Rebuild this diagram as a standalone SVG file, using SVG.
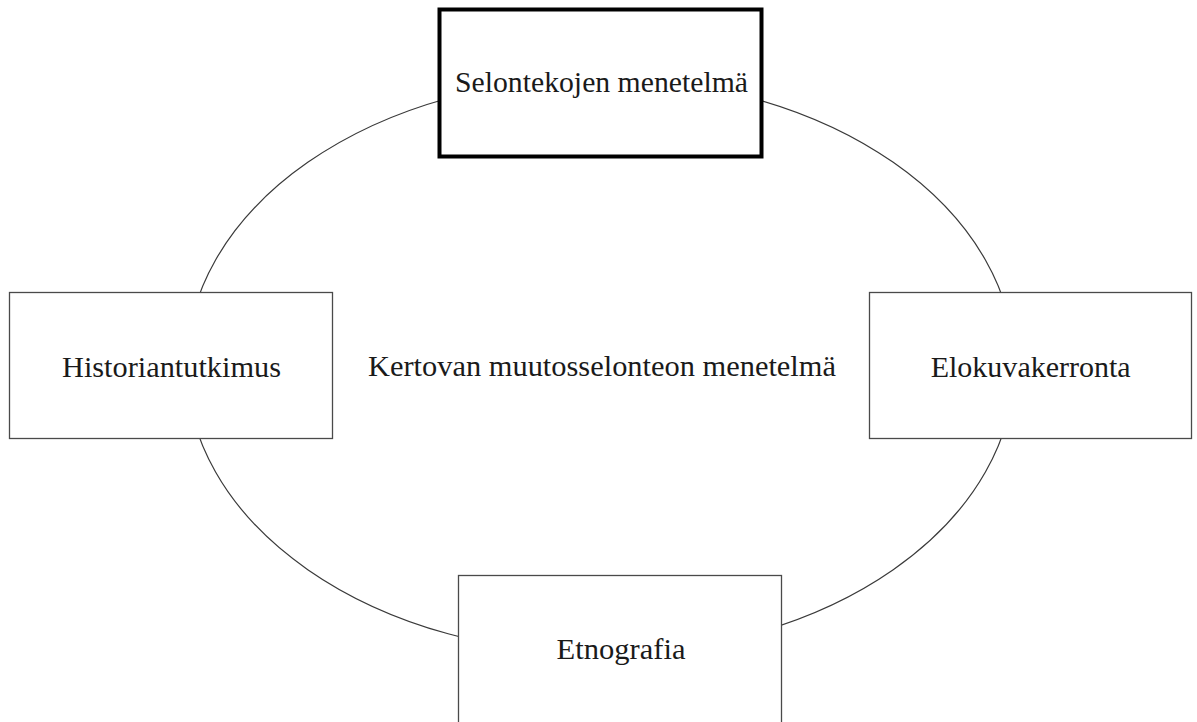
<svg xmlns="http://www.w3.org/2000/svg" width="1197" height="722" viewBox="0 0 1197 722">
  <style>
    .box { fill: #ffffff; stroke: #4a4a4a; stroke-width: 1.3; }
    .box-main { fill: #ffffff; stroke: #000000; stroke-width: 4; }
    .ring { fill: none; stroke: #3a3a3a; stroke-width: 1.2; }
    .label { font-family: "Liberation Serif", "Times New Roman", serif; font-size: 29px; fill: #1a1a1a; text-anchor: middle; }
  </style>
  <rect width="1197" height="722" fill="#ffffff"/>

  <!-- cycle ring joining the four methods -->
  <g id="connectors">
    <ellipse class="ring" cx="600.5" cy="366" rx="414" ry="288"/>
  </g>

  <g id="center-label">
    <text class="label" x="602" y="376" textLength="468" lengthAdjust="spacingAndGlyphs">Kertovan muutosselonteon menetelmä</text>
  </g>

  <g id="node-selontekojen">
    <rect class="box-main" x="439.5" y="9.5" width="322" height="147"/>
    <text class="label" x="601.5" y="92" textLength="293" lengthAdjust="spacingAndGlyphs">Selontekojen menetelmä</text>
  </g>

  <g id="node-historiantutkimus">
    <rect class="box" x="9.5" y="292.5" width="323" height="146"/>
    <text class="label" x="171.5" y="377" textLength="219" lengthAdjust="spacingAndGlyphs">Historiantutkimus</text>
  </g>

  <g id="node-elokuvakerronta">
    <rect class="box" x="869.5" y="292.5" width="322" height="146"/>
    <text class="label" x="1030.7" y="377" textLength="200" lengthAdjust="spacingAndGlyphs">Elokuvakerronta</text>
  </g>

  <g id="node-etnografia">
    <rect class="box" x="458.5" y="575.5" width="323" height="160"/>
    <text class="label" x="621" y="659" textLength="129" lengthAdjust="spacingAndGlyphs">Etnografia</text>
  </g>
</svg>
